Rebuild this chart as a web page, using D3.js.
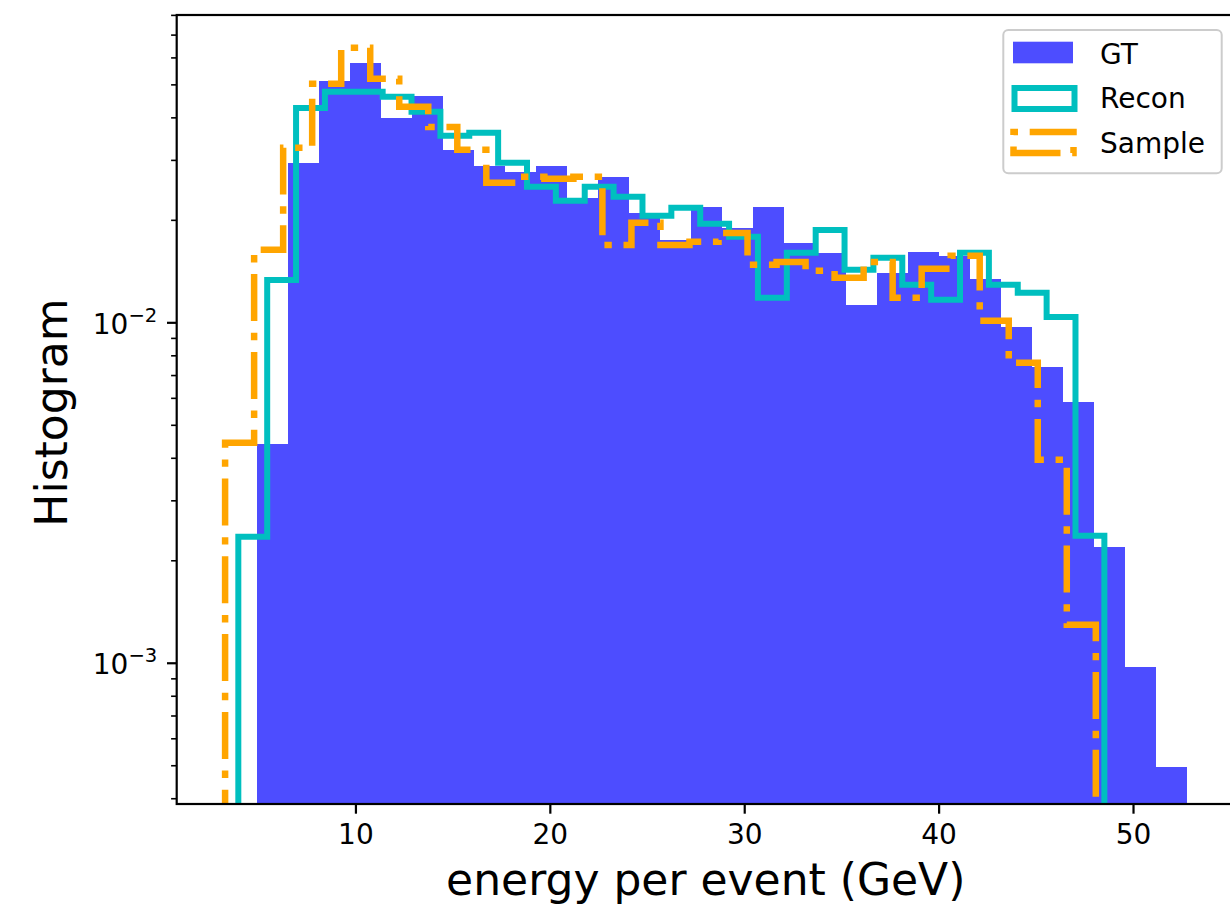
<!DOCTYPE html>
<html><head><meta charset="utf-8">
<script src="https://cdn.jsdelivr.net/npm/d3@7"></script>
<style>
body{margin:0;background:#fff;overflow:hidden}
text{font-family:"DejaVu Sans",sans-serif;fill:#000}
</style>
</head><body>
<svg id="chart" width="1230" height="917"></svg>
<script>
// ---- data ----
const gtStart = 4.90, gtBinWidth = 1.595;
const gtValues = [0.00441,0.02951,0.05137,0.05803,0.04000,0.04642,0.03223,0.02892,0.02777,0.02892,
  0.02329,0.02685,0.02104,0.01753,0.02191,0.01901,0.02191,0.01717,0.01605,0.01129,
  0.01402,0.01616,0.01573,0.01346,0.00973,0.00743,0.00586,0.00220,0.000977,0.000497];
const reconStart = 3.95, reconBinWidth = 1.485;
const reconValues = [0.002352,0.01337,0.04279,0.04770,0.04770,0.04610,0.04166,0.03541,0.03614,0.02951,
  0.02509,0.02282,0.02509,0.02344,0.02062,0.02176,0.01953,0.01789,0.01184,0.01605,
  0.01875,0.01431,0.01552,0.01293,0.01168,0.01605,0.01293,0.01225,0.01041,0.002368];
const sampleStart = 3.27, sampleBinWidth = 1.493;
const sampleValues = [0.004442,0.01638,0.03266,0.05034,0.06422,0.05207,0.04309,0.03763,0.03223,0.02578,
  0.02685,0.02648,0.02685,0.01694,0.01966,0.01694,0.01729,0.01837,0.01480,0.01510,
  0.01421,0.01356,0.01510,0.01184,0.01441,0.01573,0.01014,0.00763,0.00396,0.001298];
const xTicks = [10, 20, 30, 40, 50];
const yMajorTicks = [1e-3, 1e-2];
const yMajorExponents = ["\u22123", "\u22122"];
const xDomain = [0.78, 55.21];
const yDomain = [3.86e-4, 0.0802];
const seriesNames = ["GT", "Recon", "Sample"];
const xLabel = "energy per event (GeV)";
const yLabel = "Histogram";

// ---- layout ----
const L = 176.7, R = 1234.8, T = 15, B = 804;
const svg = d3.select("#chart");
const x = d3.scaleLinear().domain(xDomain).range([L, R]);
const y = d3.scaleLog().domain(yDomain).range([B, T]);

svg.append("defs").append("clipPath").attr("id","plotclip")
  .append("rect").attr("x",L).attr("y",T).attr("width",R-L).attr("height",B-T);
const plot = svg.append("g").attr("clip-path","url(#plotclip)");

// GT bars
const gtBins = gtValues.map((v,i)=>({x0: gtStart + i*gtBinWidth, x1: gtStart + (i+1)*gtBinWidth, v}));
plot.selectAll("rect.gt").data(gtBins).enter().append("rect")
  .attr("class","gt")
  .attr("x", d=>x(d.x0)).attr("width", d=>x(d.x1)-x(d.x0)+0.4)
  .attr("y", d=>y(d.v)).attr("height", d=>B - y(d.v))
  .attr("fill","rgb(77,77,255)").attr("shape-rendering","crispEdges");

function stepPoints(start, w, vals){
  const pts = [[start, yDomain[0]]];
  vals.forEach((v,i)=>{ pts.push([start+i*w, v]); pts.push([start+(i+1)*w, v]); });
  pts.push([start+vals.length*w, yDomain[0]]);
  return pts;
}
const line = d3.line().x(d=>x(d[0])).y(d=>y(d[1]));

plot.append("path").attr("d", line(stepPoints(reconStart, reconBinWidth, reconValues)))
  .attr("fill","none").attr("stroke","#00bfbf").attr("stroke-width",6)
  .attr("stroke-linejoin","miter").attr("stroke-linecap","butt");

plot.append("path").attr("d", line(stepPoints(sampleStart, sampleBinWidth, sampleValues)))
  .attr("fill","none").attr("stroke","#ffa500").attr("stroke-width",6.5)
  .attr("stroke-dasharray","47,11.7,7.4,11.7").attr("stroke-dashoffset",32.7)
  .attr("stroke-linejoin","miter").attr("stroke-linecap","butt");

// ---- axes ----
const ax = svg.append("g");
const tickW = 2.2;
// x ticks
xTicks.forEach(t=>{
  ax.append("line").attr("x1",x(t)).attr("x2",x(t)).attr("y1",B).attr("y2",B+9.7)
    .attr("stroke","#000").attr("stroke-width",tickW);
  ax.append("text").attr("x",x(t)).attr("y",B+19.4+20.5).attr("text-anchor","middle")
    .attr("font-size",28).text(t);
});
// y minor ticks
const yMinor = [];
for (let e=-4;e<=-2;e++) for (let m=2;m<=9;m++){ const v=m*Math.pow(10,e); if(v>=yDomain[0]&&v<=yDomain[1]) yMinor.push(v); }
yMinor.forEach(t=>{
  ax.append("line").attr("x1",L-5.6).attr("x2",L).attr("y1",y(t)).attr("y2",y(t))
    .attr("stroke","#000").attr("stroke-width",1.6);
});
yMajorTicks.forEach((t,i)=>{
  ax.append("line").attr("x1",L-9.7).attr("x2",L).attr("y1",y(t)).attr("y2",y(t))
    .attr("stroke","#000").attr("stroke-width",tickW);
  const tx = ax.append("text").attr("x",L-19.4).attr("y",y(t)+11).attr("text-anchor","end").attr("font-size",28);
  tx.append("tspan").text("10");
  tx.append("tspan").attr("font-size",19.6).attr("dy",-12).text(yMajorExponents[i]);
});
// spines
ax.append("rect").attr("x",L).attr("y",T).attr("width",R-L).attr("height",B-T)
  .attr("fill","none").attr("stroke","#000").attr("stroke-width",2.2);

// axis labels
svg.append("text").attr("x",(L+R)/2).attr("y",895).attr("text-anchor","middle")
  .attr("font-size",44).text(xLabel);
svg.append("text").attr("transform","translate(67,"+((T+B)/2+3)+") rotate(-90)")
  .attr("text-anchor","middle").attr("font-size",44).text(yLabel);

// ---- legend ----
const lg = svg.append("g");
lg.append("rect").attr("x",1003.3).attr("y",30).attr("width",218.4).attr("height",143.3).attr("rx",5)
  .attr("fill","rgba(255,255,255,0.8)").attr("stroke","#cccccc").attr("stroke-width",2);
lg.append("rect").attr("x",1013).attr("y",41.7).attr("width",60).attr("height",21.6).attr("fill","rgb(77,77,255)");
lg.append("rect").attr("x",1014.5).attr("y",88).attr("width",60).attr("height",21)
  .attr("fill","none").attr("stroke","#00bfbf").attr("stroke-width",6);
// sample patch: path starting bottom-left like matplotlib Rectangle
const sx0=1013.5, sx1=1073.5, syT=132, syB=153;
lg.append("path").attr("d",`M${sx0},${syB}L${sx1},${syB}L${sx1},${syT}L${sx0},${syT}Z`)
  .attr("fill","none").attr("stroke","#ffa500").attr("stroke-width",6.5)
  .attr("stroke-dasharray","47,11.7,7.4,11.7").attr("stroke-linejoin","miter");
const lgBase = [63.5, 108.3, 152.5];
seriesNames.forEach((n,i)=>{
  lg.append("text").attr("x",1100).attr("y",lgBase[i]).attr("font-size",28).text(n);
});
</script>
</body></html>
